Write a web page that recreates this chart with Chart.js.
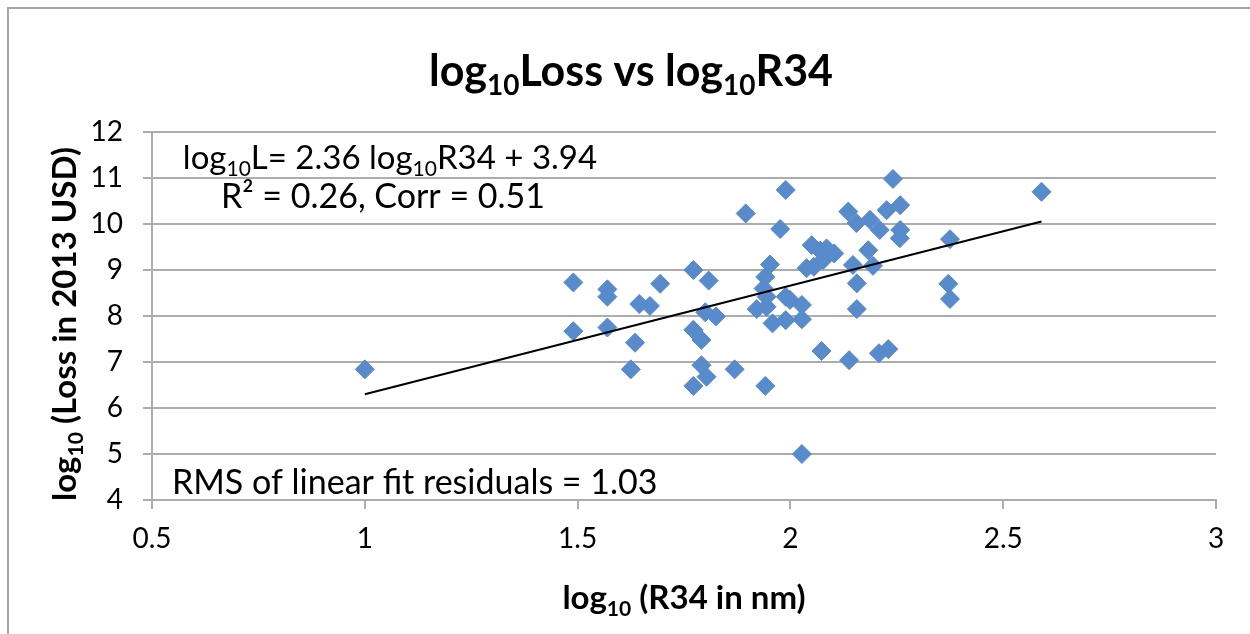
<!DOCTYPE html>
<html>
<head>
<meta charset="utf-8">
<script src="https://cdn.jsdelivr.net/npm/chart.js@4.4.0/dist/chart.umd.min.js"></script>
<style>
    html, body { margin: 0; padding: 0; background: #ffffff; }
    #wrap { width: 1250px; height: 634px; }
</style>
</head>
<body>
<div id="wrap"><canvas id="lossChart" width="1250" height="634"></canvas></div>
<script>
// log10(R34 in nm) for each storm
const r34Log = [
    1.00, 1.49, 1.49, 1.57, 1.57, 1.57, 1.645, 1.670, 1.694, 1.635,
    1.625, 1.772, 1.808, 1.800, 1.825, 1.772, 1.791, 1.791, 1.803, 1.772,
    1.869, 1.895, 1.989, 1.976, 1.941, 1.952, 1.941, 1.937, 1.944, 1.921,
    1.944, 1.958, 1.989, 1.999, 1.989, 2.027, 2.027, 2.027, 2.050, 2.038,
    2.055, 2.070, 2.085, 2.103, 2.077, 2.073, 2.136, 2.155, 2.187, 2.210,
    2.226, 2.258, 2.258, 2.257, 2.241, 2.147, 2.156, 2.156, 2.138, 2.183,
    2.194, 2.208, 2.230, 2.375, 2.371, 2.375, 2.590
];
// log10(Loss in 2013 USD)
const lossLog = [
    6.84, 8.73, 7.67, 8.58, 8.42, 7.75, 8.26, 8.22, 8.70, 7.42,
    6.84, 9.00, 8.77, 8.08, 7.99, 7.70, 7.48, 6.93, 6.68, 6.48,
    6.84, 10.23, 10.74, 9.89, 6.48, 9.12, 8.85, 8.60, 8.42, 8.15,
    8.20, 7.84, 8.42, 8.35, 7.91, 8.24, 7.93, 5.00, 9.54, 9.04,
    9.07, 9.42, 9.47, 9.36, 9.22, 7.24, 10.27, 10.02, 10.09, 9.87,
    10.30, 10.41, 9.87, 9.69, 10.98, 9.11, 8.71, 8.15, 7.04, 9.43,
    9.09, 7.19, 7.28, 9.67, 8.70, 8.37, 10.70
];
const xTicks = [0.5, 1, 1.5, 2, 2.5, 3];
const yTicks = [4, 5, 6, 7, 8, 9, 10, 11, 12];
const fitSlope = 2.36;
const fitIntercept = 3.94;

const FONT = 'Lato, "Open Sans", sans-serif';
const GRID = '#ADADAD';
const MARKER = '#588BCB';

const points = r34Log.map((x, i) => ({ x: x, y: lossLog[i] }));
const xMin = Math.min(...r34Log);
const xMax = Math.max(...r34Log);
const fitLine = [
    { x: xMin, y: fitSlope * xMin + fitIntercept },
    { x: xMax, y: fitSlope * xMax + fitIntercept }
];

// draws text made of normal + subscript pieces
function drawRich(ctx, parts, x, y, size, bold, align) {
    const weight = bold ? 'bold ' : '';
    const subSize = Math.round(size * 0.64);
    let total = 0;
    parts.forEach(p => {
        ctx.font = weight + (p.sub ? subSize : size) + 'px ' + FONT;
        total += ctx.measureText(p.t).width;
    });
    let cx = align === 'left' ? x : x - total / 2;
    ctx.textBaseline = 'alphabetic';
    ctx.textAlign = 'left';
    parts.forEach(p => {
        ctx.font = weight + (p.sub ? subSize : size) + 'px ' + FONT;
        ctx.fillText(p.t, cx, p.sub ? y + size * 0.22 : y);
        cx += ctx.measureText(p.t).width;
    });
}

const textPlugin = {
    id: 'textPlugin',
    beforeDraw(chart) {
        const ctx = chart.ctx;
        ctx.save();
        ctx.fillStyle = '#ffffff';
        ctx.fillRect(0, 0, chart.width, chart.height);
        ctx.strokeStyle = '#A6A6A6';
        ctx.lineWidth = 2;
        ctx.beginPath();
        ctx.moveTo(8, chart.height + 2);
        ctx.lineTo(8, 8);
        ctx.lineTo(chart.width + 2, 8);
        ctx.stroke();
        ctx.restore();
    },
    afterDraw(chart) {
        const ctx = chart.ctx;
        const area = chart.chartArea;
        const midX = (area.left + area.right) / 2;
        ctx.save();
        ctx.fillStyle = '#000000';

        // title
        drawRich(ctx, [
            { t: 'log' }, { t: '10', sub: true }, { t: 'Loss vs log' },
            { t: '10', sub: true }, { t: 'R34' }
        ], 631, 86, 43, true, 'center');

        // x axis title
        drawRich(ctx, [
            { t: 'log' }, { t: '10', sub: true }, { t: ' (R34 in nm)' }
        ], midX, 609, 33, true, 'center');

        // y axis title
        ctx.save();
        ctx.translate(76, (area.top + area.bottom) / 2 + 8);
        ctx.rotate(-Math.PI / 2);
        drawRich(ctx, [
            { t: 'log' }, { t: '10', sub: true }, { t: ' (Loss in 2013 USD)' }
        ], 0, 0, 33, true, 'center');
        ctx.restore();

        // fit annotations
        drawRich(ctx, [
            { t: 'log' }, { t: '10', sub: true }, { t: 'L= 2.36 log' },
            { t: '10', sub: true }, { t: 'R34 + 3.94' }
        ], 390, 169, 33, false, 'center');
        drawRich(ctx, [{ t: 'R² = 0.26, Corr = 0.51' }], 383, 208, 34, false, 'center');
        drawRich(ctx, [{ t: 'RMS of linear fit residuals = 1.03' }], 172, 494, 34, false, 'left');
        ctx.restore();
    }
};

new Chart(document.getElementById('lossChart'), {
    type: 'scatter',
    data: {
        datasets: [
            {
                type: 'line',
                data: fitLine,
                borderColor: '#000000',
                borderWidth: 2,
                pointRadius: 0,
                fill: false,
                order: 0
            },
            {
                data: points,
                backgroundColor: MARKER,
                borderColor: MARKER,
                borderWidth: 1,
                pointStyle: 'rectRot',
                pointRadius: 9.5,
                pointHoverRadius: 9.5,
                order: 1
            }
        ]
    },
    options: {
        responsive: false,
        animation: false,
        layout: { padding: { top: 132, right: 34, left: 0, bottom: 0 } },
        plugins: {
            legend: { display: false },
            title: { display: false },
            tooltip: { enabled: false }
        },
        scales: {
            x: {
                type: 'linear',
                min: 0.5,
                max: 3,
                afterBuildTicks: scale => { scale.ticks = xTicks.map(v => ({ value: v })); },
                afterFit: scale => { scale.height = 134; },
                ticks: {
                    color: '#000000',
                    font: { family: FONT, size: 28 },
                    padding: 13,
                    callback: value => String(value)
                },
                grid: {
                    drawOnChartArea: false,
                    drawTicks: true,
                    tickLength: 9,
                    color: GRID,
                    lineWidth: 2
                },
                border: { color: GRID, width: 2 }
            },
            y: {
                min: 4,
                max: 12,
                afterBuildTicks: scale => { scale.ticks = yTicks.map(v => ({ value: v })); },
                afterFit: scale => { scale.width = 152; },
                ticks: {
                    color: '#000000',
                    font: { family: FONT, size: 28 },
                    padding: 20,
                    callback: value => String(value)
                },
                grid: {
                    color: GRID,
                    lineWidth: 2,
                    tickLength: 9
                },
                border: { color: GRID, width: 2 }
            }
        }
    },
    plugins: [textPlugin]
});
</script>
</body>
</html>
